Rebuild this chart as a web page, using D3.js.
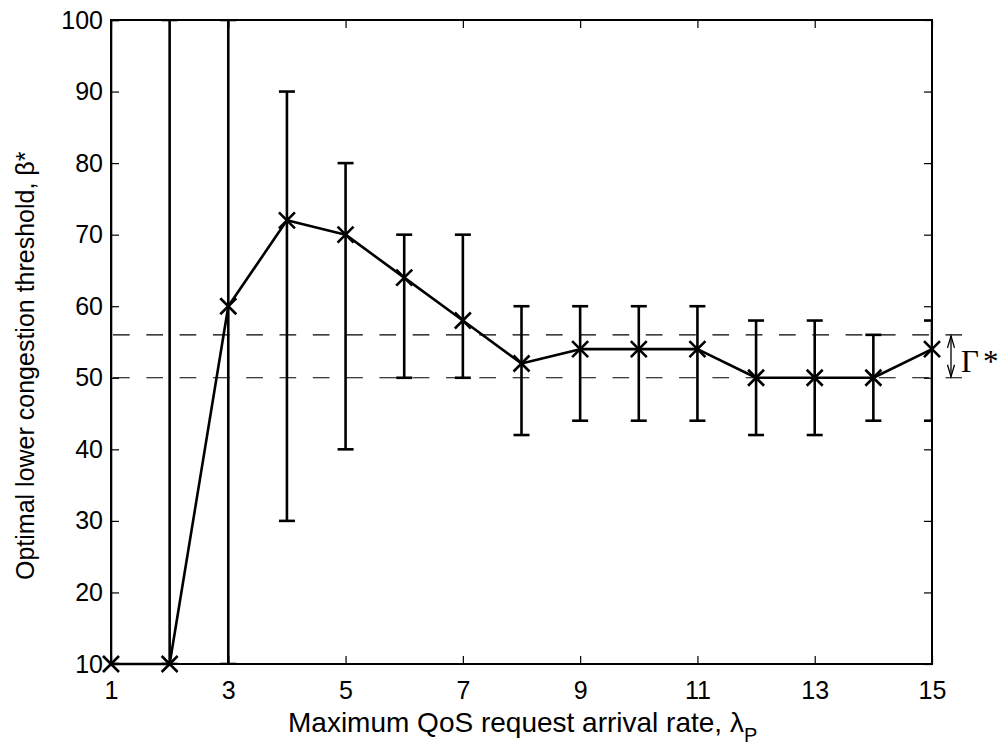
<!DOCTYPE html>
<html>
<head>
<meta charset="utf-8">
<script src="https://cdn.jsdelivr.net/npm/d3@7"></script>
<style>
  html, body { margin: 0; padding: 0; background: #fff; }
  svg { display: block; }
  text { font-family: "Liberation Sans", Arial, Helvetica, sans-serif; fill: #000; }
</style>
</head>
<body>
<svg id="chart" width="1000" height="747"></svg>
<script>
// ---- data ----
const xValues   = [1, 2, 3, 4, 5, 6, 7, 8, 9, 10, 11, 12, 13, 14, 15];
const betaMean  = [10, 10, 60, 72, 70, 64, 58, 52, 54, 54, 54, 50, 50, 50, 54];
const betaLower = [10, 10, 10, 30, 40, 50, 50, 42, 44, 44, 44, 42, 42, 44, 44];
const betaUpper = [100, 100, 100, 90, 80, 70, 70, 60, 60, 60, 60, 58, 58, 56, 58];
const gammaBand = [50, 56];
const xTicks = [1, 3, 5, 7, 9, 11, 13, 15];
const yTicks = [10, 20, 30, 40, 50, 60, 70, 80, 90, 100];
const xDomain = [1, 15];
const yDomain = [10, 100];

// ---- layout ----
const margin = { left: 111, top: 20, right: 68, bottom: 83 };
const W = 1000, H = 747;
const iw = W - margin.left - margin.right;   // 821
const ih = H - margin.top - margin.bottom;   // 644

const svg = d3.select("#chart");
const x = d3.scaleLinear().domain(xDomain).range([margin.left, margin.left + iw]);
const y = d3.scaleLinear().domain(yDomain).range([margin.top + ih, margin.top]);

svg.append("defs").append("clipPath").attr("id", "plotclip")
  .append("rect").attr("x", margin.left).attr("y", margin.top)
  .attr("width", iw).attr("height", ih);

// ---- dashed Gamma band lines ----
svg.append("g").selectAll("line").data(gammaBand).join("line")
  .attr("x1", x(xDomain[0]) + 2).attr("x2", 962)
  .attr("y1", d => y(d)).attr("y2", d => y(d))
  .attr("stroke", "#000").attr("stroke-width", 1.1)
  .attr("stroke-dasharray", "16.7,16.6");

// ---- axes (ticks inward, MATLAB style) ----
const fs = 25;
const gx = svg.append("g").attr("transform", `translate(0,${margin.top + ih})`)
  .call(d3.axisBottom(x).tickValues(xTicks).tickSize(-8).tickPadding(17).tickFormat(d3.format("d")));
const gxt = svg.append("g").attr("transform", `translate(0,${margin.top})`)
  .call(d3.axisTop(x).tickValues(xTicks).tickSize(-8).tickFormat(""));
const gy = svg.append("g").attr("transform", `translate(${margin.left},0)`)
  .call(d3.axisLeft(y).tickValues(yTicks).tickSize(-8).tickPadding(8).tickFormat(d3.format("d")));
const gyr = svg.append("g").attr("transform", `translate(${margin.left + iw},0)`)
  .call(d3.axisRight(y).tickValues(yTicks).tickSize(-8).tickFormat(""));
[gx, gxt, gy, gyr].forEach(g => {
  g.select(".domain").remove();
  g.selectAll(".tick line").attr("stroke", "#000").attr("stroke-width", 1.2);
  g.selectAll("text").attr("font-size", fs).attr("fill", "#000")
    .style("font-family", '"Liberation Sans", Arial, sans-serif');
});

// ---- error bars (clipped to axes) ----
const capHalf = 8;
const eb = svg.append("g").attr("clip-path", "url(#plotclip)")
  .attr("stroke", "#000").attr("stroke-width", 2.6).attr("fill", "none");
xValues.forEach((xv, i) => {
  const g = eb.append("g");
  g.append("line").attr("x1", x(xv)).attr("x2", x(xv))
    .attr("y1", y(betaLower[i])).attr("y2", y(betaUpper[i]));
  g.append("line").attr("x1", x(xv) - capHalf).attr("x2", x(xv) + capHalf)
    .attr("y1", y(betaLower[i])).attr("y2", y(betaLower[i]));
  g.append("line").attr("x1", x(xv) - capHalf).attr("x2", x(xv) + capHalf)
    .attr("y1", y(betaUpper[i])).attr("y2", y(betaUpper[i]));
});

// ---- box ----
svg.append("rect").attr("x", margin.left).attr("y", margin.top)
  .attr("width", iw).attr("height", ih)
  .attr("fill", "none").attr("stroke", "#000").attr("stroke-width", 2);

// ---- mean line ----
const pts = xValues.map((xv, i) => [xv, betaMean[i]]);
svg.append("path").datum(pts)
  .attr("d", d3.line().x(d => x(d[0])).y(d => y(d[1])))
  .attr("fill", "none").attr("stroke", "#000").attr("stroke-width", 2.6)
  .attr("stroke-linejoin", "round");

// ---- x markers ----
const m = 8;
svg.append("g").selectAll("path").data(pts).join("path")
  .attr("d", d => {
    const cx = x(d[0]), cy = y(d[1]);
    return `M${cx - m},${cy - m}L${cx + m},${cy + m}M${cx - m},${cy + m}L${cx + m},${cy - m}`;
  })
  .attr("stroke", "#000").attr("stroke-width", 2.6).attr("fill", "none");

// ---- Gamma* double arrow ----
const ax = 951, yTop = y(gammaBand[1]), yBot = y(gammaBand[0]);
const ag = svg.append("g").attr("stroke", "#000").attr("stroke-width", 1.3).attr("fill", "none");
ag.append("line").attr("x1", ax).attr("x2", ax).attr("y1", yTop + 1).attr("y2", yBot - 1);
ag.append("path").attr("d", `M${ax - 3.5},${yTop + 13}L${ax},${yTop + 1}L${ax + 3.5},${yTop + 13}`);
ag.append("path").attr("d", `M${ax - 3.5},${yBot - 13}L${ax},${yBot - 1}L${ax + 3.5},${yBot - 13}`);
svg.append("text").attr("x", 961).attr("y", 372)
  .style("font-family", '"Liberation Serif", "Times New Roman", serif')
  .attr("font-size", 31).text("Γ");
svg.append("text").attr("x", 983).attr("y", 372)
  .style("font-family", '"Liberation Serif", "Times New Roman", serif')
  .attr("font-size", 31).text("*");

// ---- axis labels ----
const xl = svg.append("text").attr("x", 288).attr("y", 732).attr("font-size", 28);
xl.append("tspan").text("Maximum QoS request arrival rate, λ");
xl.append("tspan").attr("font-size", 20).attr("dy", 10).text("P");

svg.append("text")
  .attr("transform", `translate(34,580) rotate(-90)`)
  .attr("font-size", 25)
  .text("Optimal lower congestion threshold, β*");
</script>
</body>
</html>
